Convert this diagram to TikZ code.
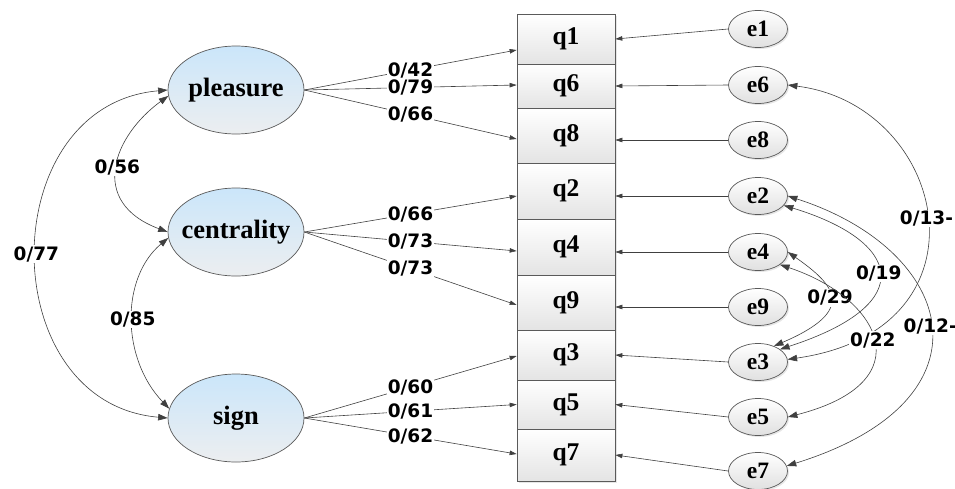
\documentclass[tikz,border=0pt]{standalone}
\usepackage{fontspec}
\setmainfont{Liberation Serif}
\newfontfamily\labfont{DejaVu Sans}
\usetikzlibrary{arrows.meta,shapes.geometric,shadows}
\definecolor{ln}{HTML}{404040}
\definecolor{bd}{HTML}{5A5A5A}
\definecolor{lblue}{HTML}{CBE6FA}
\definecolor{lgrey}{HTML}{ECEEF0}
\definecolor{boxgrey}{HTML}{E4E4E4}
\definecolor{egrey}{HTML}{E0E0E0}
\begin{document}
\begin{tikzpicture}[x=1pt,y=-1pt,
 latent/.style={ellipse, draw=bd, line width=0.7pt, top color=lblue, bottom color=lgrey,
   minimum width=136pt, minimum height=88pt, inner sep=0pt,
   font=\fontsize{26.5}{30}\selectfont\bfseries},
 obs/.style={rectangle, draw=bd, line width=0.7pt, top color=white, bottom color=boxgrey,
   minimum width=98pt, inner sep=0pt, font=\fontsize{25.5}{30}\selectfont\bfseries,
   drop shadow={shadow xshift=1.5pt, shadow yshift=-1.5pt, opacity=0.2}},
 err/.style={ellipse, draw=bd, line width=0.7pt, top color=white, bottom color=egrey,
   minimum width=59pt, minimum height=37pt, inner sep=0pt,
   font=\fontsize{23.5}{28}\selectfont\bfseries,
   drop shadow={shadow xshift=1.5pt, shadow yshift=-1.5pt, opacity=0.2}},
 lab/.style={fill=white, inner sep=1pt, font=\labfont\fontsize{18.5}{20}\selectfont\bfseries},
 ar/.style={draw=ln, line width=0.6pt, -{Triangle[length=7pt,width=4.5pt]}},
 cov/.style={draw=ln, line width=0.6pt, {Triangle[length=9.5pt,width=6.5pt]}-{Triangle[length=9.5pt,width=6.5pt]}},
]
\useasboundingbox (0,0) rectangle (955,488);

% latent variables
\node[latent] (pleasure)   at (236,90)  {\makebox[0pt]{pleasure}};
\node[latent] (centrality) at (236,232) {\makebox[0pt]{centrality}};
\node[latent] (sign)       at (236,418) {\makebox[0pt]{sign}};

% observed items
\node[obs, minimum height=50pt] (q1) at (566,39)    {q1};
\node[obs, minimum height=44pt] (q6) at (566,86)    {q6};
\node[obs, minimum height=55pt] (q8) at (566,135.5) {q8};
\node[obs, minimum height=56pt] (q2) at (566,191)   {q2};
\node[obs, minimum height=56pt] (q4) at (566,247)   {q4};
\node[obs, minimum height=55pt] (q9) at (566,302.5) {q9};
\node[obs, minimum height=50pt] (q3) at (566,355)   {q3};
\node[obs, minimum height=49pt] (q5) at (566,404.5) {q5};
\node[obs, minimum height=52pt] (q7) at (566,455)   {q7};

% error terms
\node[err] (e1) at (758,29)  {e1};
\node[err] (e6) at (758,85)  {e6};
\node[err] (e8) at (758,140) {e8};
\node[err] (e2) at (758,196) {e2};
\node[err] (e4) at (758,252) {e4};
\node[err] (e9) at (758,307) {e9};
\node[err] (e3) at (758,362) {e3};
\node[err] (e5) at (758,417) {e5};
\node[err] (e7) at (758,471) {e7};

% loadings
\draw[ar] (pleasure.east) -- node[lab]{0/42} ([yshift=-11pt]q1.west);
\draw[ar] (pleasure.east) -- node[lab]{0/79} ([yshift=1pt]q6.west);
\draw[ar] (pleasure.east) -- node[lab]{0/66} ([yshift=-3.5pt]q8.west);
\draw[ar] (centrality.east) -- node[lab]{0/66} ([yshift=-5pt]q2.west);
\draw[ar] (centrality.east) -- node[lab]{0/73} ([yshift=-4pt]q4.west);
\draw[ar] (centrality.east) -- node[lab]{0/73} ([yshift=-2.5pt]q9.west);
\draw[ar] (sign.east) -- node[lab]{0/60} ([yshift=-1pt]q3.west);
\draw[ar] (sign.east) -- node[lab]{0/61} (q5.west);
\draw[ar] (sign.east) -- node[lab]{0/62} ([yshift=1pt]q7.west);

% error paths
\draw[ar] (e1.west) -- (q1.east);
\draw[ar] (e6.west) -- (q6.east);
\draw[ar] (e8.west) -- (e8.west -| q8.east);
\draw[ar] (e2.west) -- (e2.west -| q2.east);
\draw[ar] (e4.west) -- (e4.west -| q4.east);
\draw[ar] (e9.west) -- (e9.west -| q9.east);
\draw[ar] (e3.west) -- (q3.east);
\draw[ar] (e5.west) -- (q5.east);
\draw[ar] (e7.west) -- (q7.east);

% latent covariances
\draw[cov] (pleasure.west) .. controls +(-175,15) and +(-175,-15) .. node[lab]{0/77} (sign.west);
\draw[cov] (pleasure.185) .. controls +(-55,40) and +(-80,-30) .. node[lab]{0/56} (centrality.west);
\draw[cov] (centrality.185) .. controls +(-48,40) and +(-48,-50) .. node[lab]{0/85} (sign.172);

% error covariances
\draw[cov] (e6.east) .. controls +(160,20) and +(210,-30) .. node[lab]{0/13-} (e3.5);
\draw[cov] (e2.-20) .. controls +(116,35) and +(142,-46) .. node[lab]{0/19} (e3.30);
\draw[cov] (e2.east) .. controls +(168,54) and +(213,-66) .. node[lab]{0/12-} (e7.10);
\draw[cov] (e4.east) .. controls +(47,33) and +(84,-36) .. node[lab]{0/29} (e3.45);
\draw[cov] (e4.-30) .. controls +(100,33) and +(137,-35) .. node[lab]{0/22} (e5.east);
\end{tikzpicture}
\end{document}
